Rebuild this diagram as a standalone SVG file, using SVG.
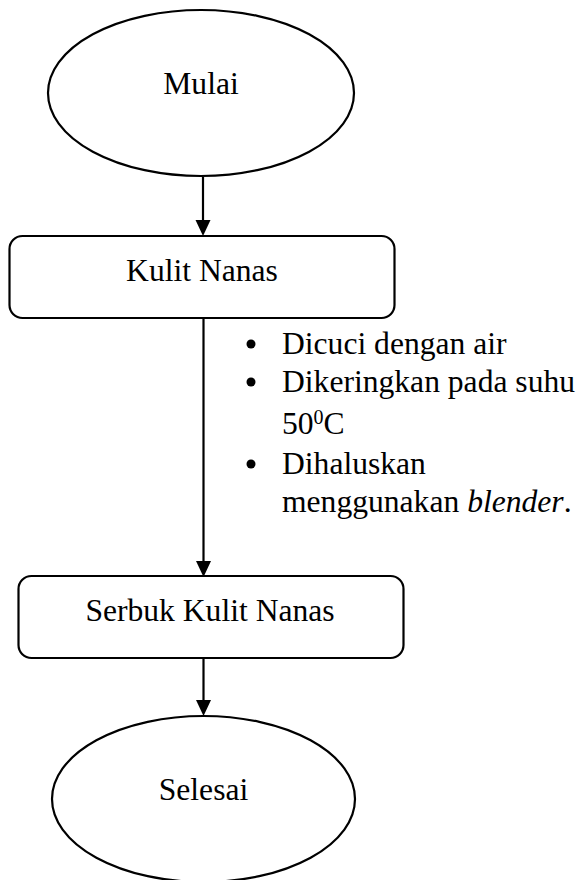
<svg xmlns="http://www.w3.org/2000/svg" width="581" height="880" viewBox="0 0 581 880">
<style>
.s{fill:#fff;stroke:#000;stroke-width:2.2}
.t{font-family:"Liberation Serif","Times New Roman",serif;font-size:31.6px;fill:#000}
.c{stroke:#000;stroke-width:2.2;fill:none}
.h{fill:#000}
</style>
<rect width="581" height="880" fill="#fff"/>
<g id="connectors">
<line class="c" x1="203" y1="177" x2="203" y2="222"/>
<path class="h" d="M195.5,220 L210.5,220 L203,236 Z"/>
<line class="c" x1="203.5" y1="319" x2="203.5" y2="562"/>
<path class="h" d="M196,561 L211,561 L203.5,577 Z"/>
<line class="c" x1="203.5" y1="658" x2="203.5" y2="702"/>
<path class="h" d="M196,700 L211,700 L203.5,716 Z"/>
</g>
<g id="mulai">
<ellipse class="s" cx="201" cy="93" rx="153" ry="83"/>
<text class="t" x="201" y="94" text-anchor="middle">Mulai</text>
</g>
<g id="kulit-nanas">
<rect class="s" x="9.5" y="236" width="385" height="82" rx="13"/>
<text class="t" x="202" y="281" text-anchor="middle">Kulit Nanas</text>
</g>
<g id="keterangan">
<circle cx="251" cy="344" r="4.5"/>
<text class="t" x="282" y="354">Dicuci dengan air</text>
<circle cx="251" cy="382" r="4.5"/>
<text class="t" x="282" y="392">Dikeringkan pada suhu</text>
<text class="t" x="282" y="434">50<tspan font-size="20" dy="-10">0</tspan><tspan dy="10">C</tspan></text>
<circle cx="251" cy="464" r="4.5"/>
<text class="t" x="282" y="474">Dihaluskan</text>
<text class="t" x="282" y="512">menggunakan <tspan font-style="italic">blender</tspan>.</text>
</g>
<g id="serbuk">
<rect class="s" x="18.5" y="576" width="385" height="82" rx="13"/>
<text class="t" x="210" y="621" text-anchor="middle">Serbuk Kulit Nanas</text>
</g>
<g id="selesai">
<ellipse class="s" cx="203.5" cy="799" rx="151.5" ry="83"/>
<text class="t" x="203.5" y="800" text-anchor="middle">Selesai</text>
</g>
</svg>
